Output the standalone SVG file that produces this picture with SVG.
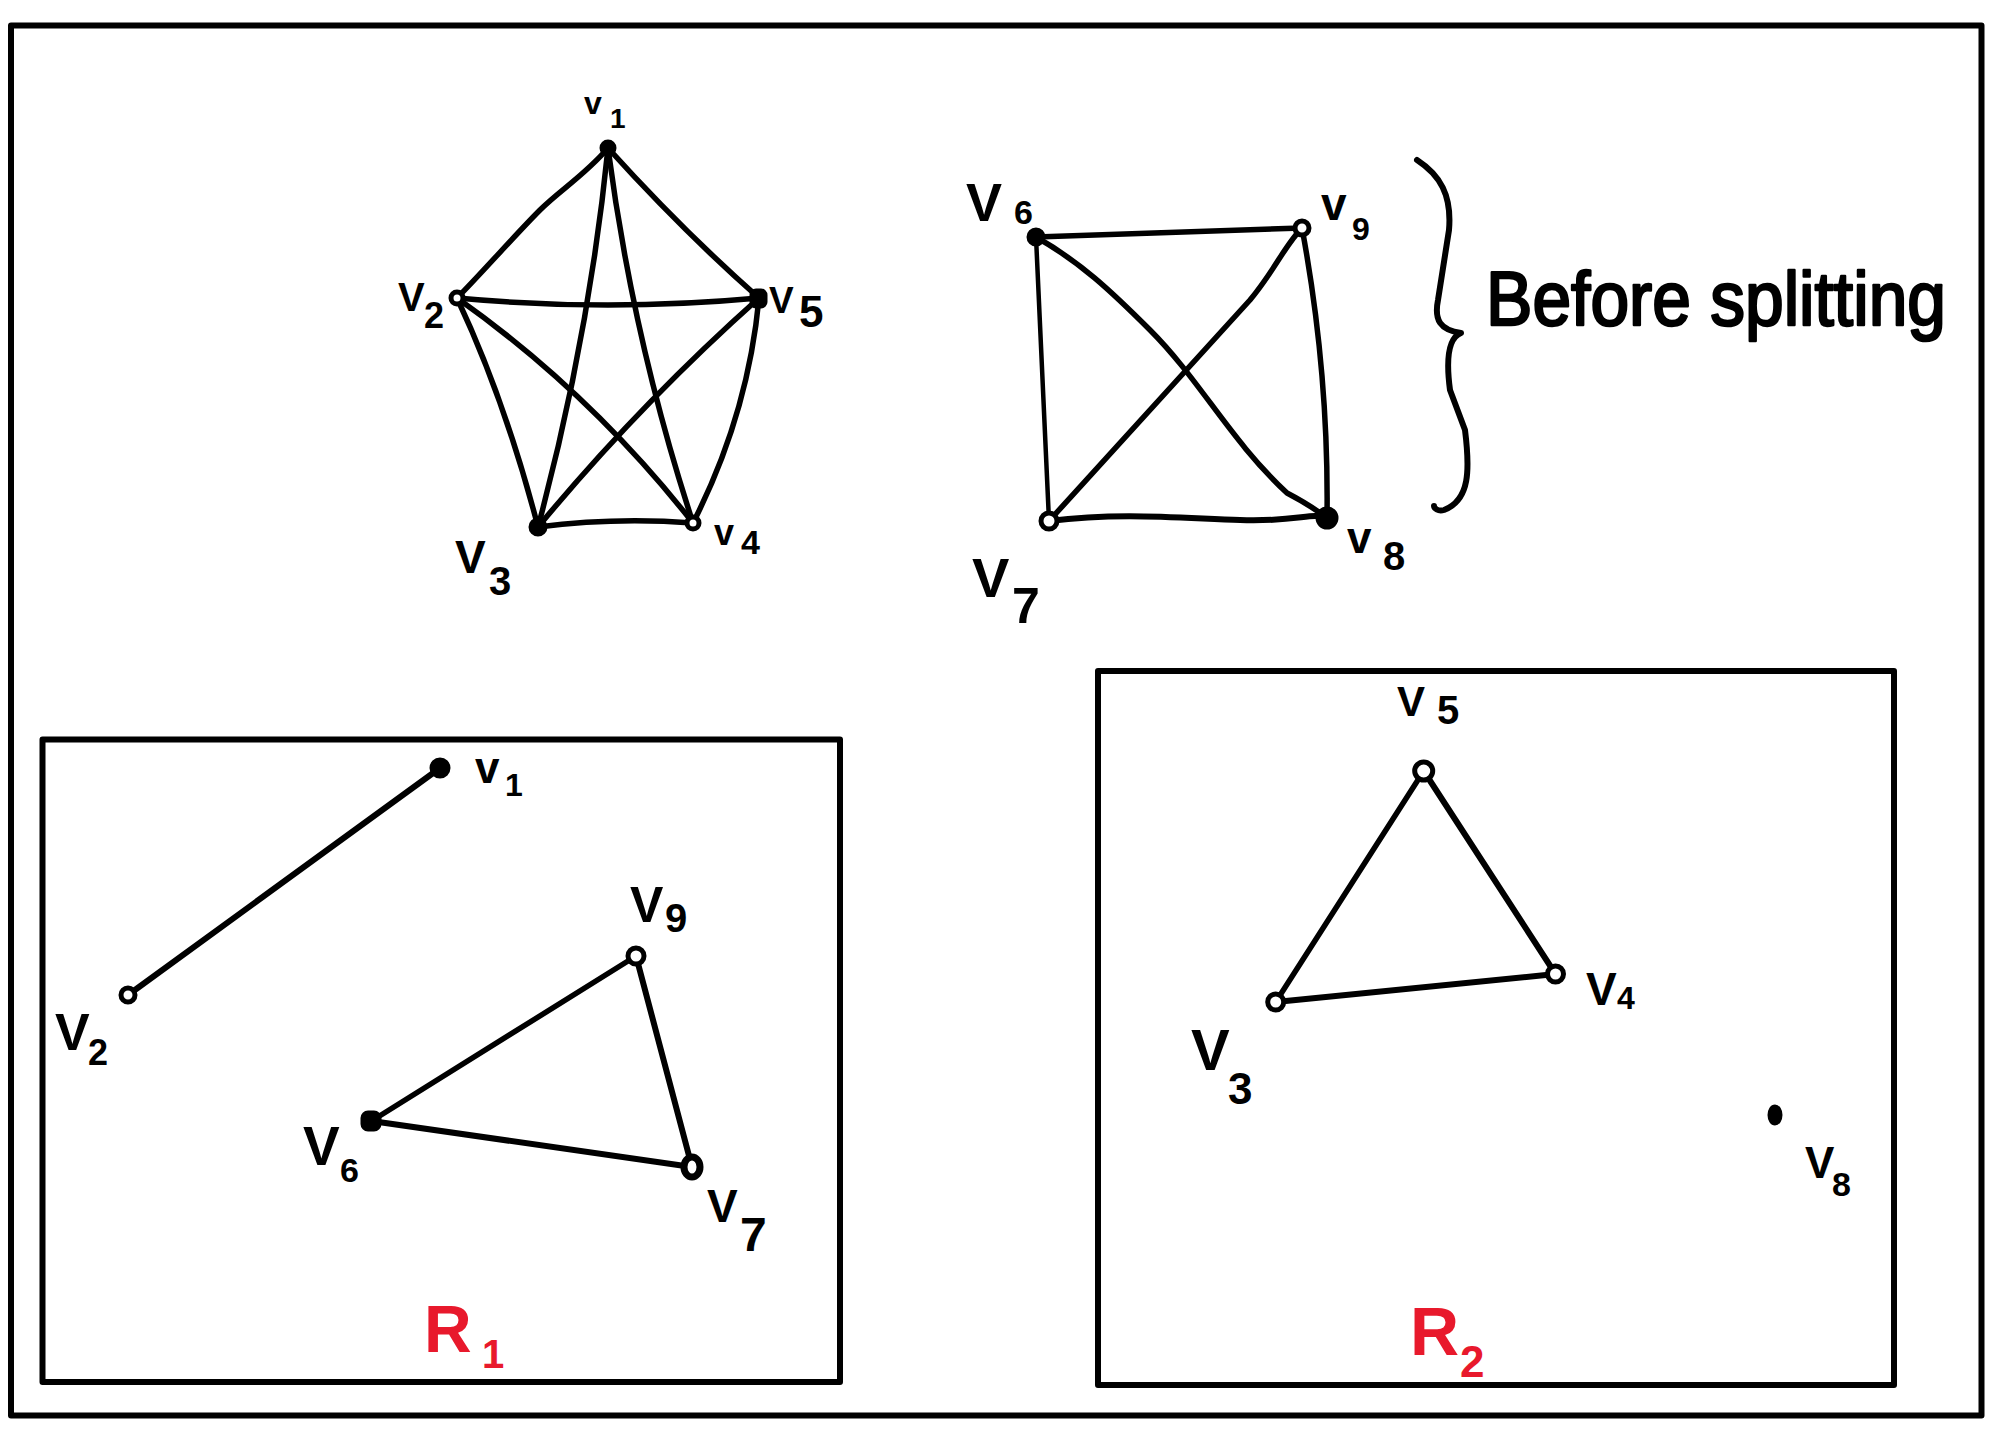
<svg xmlns="http://www.w3.org/2000/svg" width="2006" height="1438" viewBox="0 0 2006 1438">
<style>
.frame{fill:none;stroke:#000;stroke-width:6;stroke-linejoin:round}
.e{fill:none;stroke:#000;stroke-width:5.5;stroke-linecap:round;stroke-linejoin:round}
.ef{fill:#000;stroke:#000;stroke-width:3}
.eh{fill:#fff;stroke:#000;stroke-width:5}
.lb{font-family:"Liberation Sans",Arial,sans-serif;font-weight:bold;fill:#000}
.red{font-family:"Liberation Sans",Arial,sans-serif;font-weight:bold;fill:#e8192c}
.hw{font-family:"Liberation Sans",Arial,sans-serif;font-weight:normal;fill:#000;stroke:#000;stroke-width:2.5;stroke-linejoin:round}
</style>
<rect width="2006" height="1438" fill="#fff"/>
<rect class="frame" x="11" y="25.5" width="1970.5" height="1390"/>
<rect id="box-R1" class="frame" x="42.5" y="739.5" width="797.5" height="642.5"/>
<rect id="box-R2" class="frame" x="1098" y="671" width="796" height="714"/>

<g id="connectors">
  <!-- K5 before splitting -->
  <path class="e" d="M608,148 C585,175 560,190 540,210 C515,235 480,275 457,298"/>
  <path class="e" d="M608,148 Q683,231 759,298"/>
  <path class="e" d="M608,148 Q589,337 538,527"/>
  <path class="e" d="M608,148 Q633,340 693,523"/>
  <path class="e" d="M457,298 Q608,312 759,298"/>
  <path class="e" d="M457,298 Q505,400 538,527"/>
  <path class="e" d="M457,298 Q590,392 693,523"/>
  <path class="e" d="M759,298 Q640,404 538,527"/>
  <path class="e" d="M759,298 Q748,415 693,523"/>
  <path class="e" d="M538,527 Q615,517 693,523"/>
  <!-- K4 before splitting -->
  <path class="e" d="M1036,237 L1302,228"/>
  <path class="e" d="M1036,237 L1049,521" style="stroke-width:4.5"/>
  <path class="e" d="M1302,228 Q1329,373 1327,518"/>
  <path class="e" d="M1049,521 C1120,512 1180,518 1240,520 S1310,512 1327,518" style="stroke-width:6"/>
  <path class="e" d="M1036,237 C1080,262 1110,290 1150,330 C1200,380 1230,440 1287,493 Q1310,505 1327,518"/>
  <path class="e" d="M1302,228 C1285,245 1275,270 1250,300 L1049,521"/>
  <!-- brace -->
  <path class="e" style="stroke-width:6" d="M1417,160 C1440,175 1452,195 1449,230 L1438,300 C1434,320 1440,330 1461,333 C1448,338 1446,360 1450,390 L1465,430 C1470,470 1470,500 1444,510 C1438,512 1434,508 1434,506"/>
  <!-- R1 -->
  <path class="e" style="stroke-width:6" d="M440,768 L128,995"/>
  <path class="e" d="M636,956 L371.5,1121"/>
  <path class="e" style="stroke-width:6" d="M371.5,1121 L692,1167"/>
  <path class="e" style="stroke-width:6" d="M636,956 L692,1167"/>
  <!-- R2 -->
  <path class="e" d="M1423.7,771 L1275.7,1002"/>
  <path class="e" style="stroke-width:6" d="M1423.7,771 L1555.5,974"/>
  <path class="e" style="stroke-width:6" d="M1275.7,1002 L1555.5,974"/>
</g>

<!-- before splitting: K5 -->
<g id="k5-v1"><circle class="ef" cx="608" cy="148" r="7"/><text class="lb" x="584" y="114" font-size="32">v</text><text class="lb" x="610" y="128" font-size="28">1</text></g>
<g id="k5-v2"><circle class="eh" cx="457" cy="298" r="6"/><text class="lb" x="398" y="311" font-size="40">V</text><text class="lb" x="424" y="328" font-size="36">2</text></g>
<g id="k5-v5"><rect class="ef" x="751" y="290" width="15" height="17" rx="5"/><text class="lb" x="769" y="313" font-size="37">V</text><text class="lb" x="799" y="327" font-size="44">5</text></g>
<g id="k5-v3"><circle class="ef" cx="538" cy="527" r="8"/><text class="lb" x="455" y="573" font-size="46">V</text><text class="lb" x="489" y="595" font-size="40">3</text></g>
<g id="k5-v4"><circle class="eh" cx="693" cy="523" r="6"/><text class="lb" x="714" y="545" font-size="36">v</text><text class="lb" x="741" y="554" font-size="34">4</text></g>

<!-- before splitting: K4 -->
<g id="k4-v6"><circle class="ef" cx="1036" cy="237" r="8"/><text class="lb" x="966" y="221" font-size="54">V</text><text class="lb" x="1014" y="224" font-size="34">6</text></g>
<g id="k4-v9"><circle class="eh" cx="1302" cy="228" r="7"/><text class="lb" x="1321" y="220" font-size="46">v</text><text class="lb" x="1352" y="240" font-size="32">9</text></g>
<g id="k4-v7"><circle class="eh" cx="1049" cy="521" r="8"/><text class="lb" x="972" y="597" font-size="56">V</text><text class="lb" x="1012" y="623" font-size="50">7</text></g>
<g id="k4-v8"><circle class="ef" cx="1327" cy="518" r="10"/><text class="lb" x="1347" y="553" font-size="44">v</text><text class="lb" x="1383" y="570" font-size="40">8</text></g>

<text id="before-splitting" class="hw" x="1486" y="325" font-size="76" textLength="460" lengthAdjust="spacingAndGlyphs">Before splitting</text>

<!-- R1 -->
<g id="r1-v1"><circle class="ef" cx="440" cy="768" r="9"/><text class="lb" x="475" y="783" font-size="44">v</text><text class="lb" x="505" y="796" font-size="32">1</text></g>
<g id="r1-v2"><circle class="eh" cx="128" cy="995" r="7"/><text class="lb" x="55" y="1050" font-size="52">V</text><text class="lb" x="88" y="1065" font-size="36">2</text></g>
<g id="r1-v9"><circle class="eh" cx="636" cy="956" r="8"/><text class="lb" x="630" y="922" font-size="50">V</text><text class="lb" x="665" y="932" font-size="40">9</text></g>
<g id="r1-v6"><rect class="ef" x="362" y="1112" width="18" height="18" rx="6"/><text class="lb" x="303" y="1165" font-size="55">V</text><text class="lb" x="340" y="1182" font-size="34">6</text></g>
<g id="r1-v7"><ellipse class="eh" cx="692" cy="1167" rx="8" ry="10" style="stroke-width:7"/><text class="lb" x="707" y="1222" font-size="46">V</text><text class="lb" x="740" y="1251" font-size="48">7</text></g>
<g id="r1-label"><text class="red" x="424" y="1352" font-size="66">R</text><text class="red" x="482" y="1368" font-size="40">1</text></g>

<!-- R2 -->
<g id="r2-v5"><circle class="eh" cx="1423.7" cy="771" r="9"/><text class="lb" x="1397" y="716" font-size="42">V</text><text class="lb" x="1437" y="724" font-size="40">5</text></g>
<g id="r2-v3"><circle class="eh" cx="1275.7" cy="1002" r="8"/><text class="lb" x="1191" y="1070" font-size="58">V</text><text class="lb" x="1228" y="1104" font-size="44">3</text></g>
<g id="r2-v4"><circle class="eh" cx="1555.5" cy="974" r="8"/><text class="lb" x="1586" y="1005" font-size="46">V</text><text class="lb" x="1617" y="1009" font-size="32">4</text></g>
<g id="r2-v8"><ellipse class="ef" cx="1775" cy="1115" rx="6" ry="9"/><text class="lb" x="1805" y="1178" font-size="44">V</text><text class="lb" x="1832" y="1196" font-size="34">8</text></g>
<g id="r2-label"><text class="red" x="1410" y="1355" font-size="68">R</text><text class="red" x="1460" y="1377" font-size="44">2</text></g>
</svg>
